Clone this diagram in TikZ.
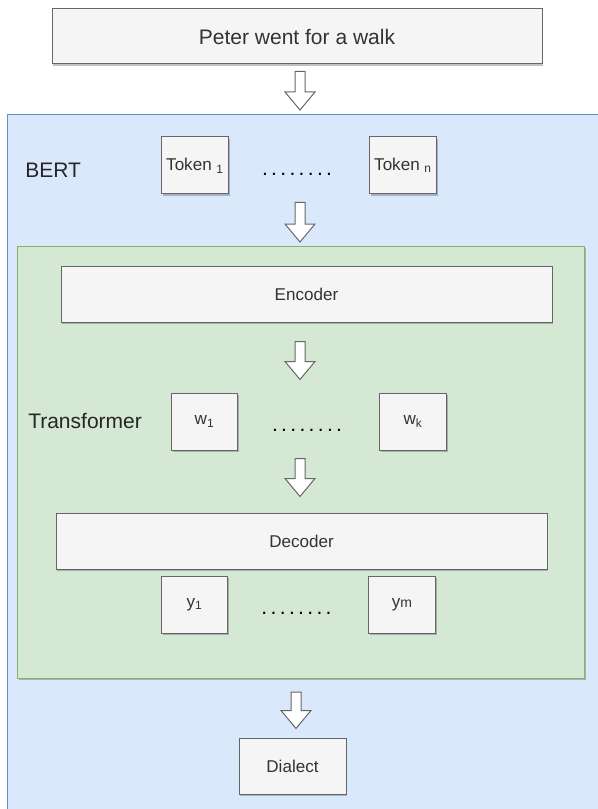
\documentclass[tikz,border=0pt]{standalone}
\usepackage{fontspec}
\setmainfont{Liberation Sans}
\usetikzlibrary{calc,shadows}

\definecolor{boxfill}{HTML}{F5F5F5}
\definecolor{boxline}{HTML}{666666}
\definecolor{boxtext}{HTML}{333333}
\definecolor{bertfill}{HTML}{DAE8FC}
\definecolor{bertline}{HTML}{6C8EBF}
\definecolor{trfill}{HTML}{D5E8D4}
\definecolor{trline}{HTML}{82B366}

\newcommand\dotrow{.\kern2.5pt.\kern2.5pt.\kern2.5pt.\kern2.5pt.\kern2.5pt.\kern2.5pt.\kern2.5pt.}

\tikzset{
  softshadow/.style={drop shadow={shadow xshift=1.1pt, shadow yshift=-1.4pt, opacity=0.35, fill=black!70}},
  greybox/.style={draw=boxline, fill=boxfill, line width=0.75pt, text=boxtext,
    inner sep=0pt, softshadow, font=\fontsize{12.8}{15}\selectfont},
  tokenbox/.style={greybox, minimum width=50pt, minimum height=42.75pt},
  widebox/.style={greybox, minimum width=368.25pt, minimum height=42pt},
  biglabel/.style={font=\fontsize{15.75}{19}\selectfont, text=black!85, inner sep=0pt},
  dots/.style={biglabel, anchor=base, text=black},
  fatarrow/.style 2 args={draw=boxline, fill=white, line width=0.75pt, line join=miter,
    to path={let \p1=(\tikztostart), \p2=(\tikztotarget) in
      (\x1-3.75pt,\y1-#1) -- (\x1+3.75pt,\y1-#1) -- (\x1+3.75pt,\y2+#2+13.5pt)
      -- (\x1+11.25pt,\y2+#2+13.5pt) -- (\x1,\y2+#2) -- (\x1-11.25pt,\y2+#2+13.5pt)
      -- (\x1-3.75pt,\y2+#2+13.5pt) -- cycle}}
}

\begin{document}
\begin{tikzpicture}[x=0.75pt, y=-0.75pt]
  \useasboundingbox (0,0) rectangle (598,809);
  \clip (0,0) rectangle (598,809);

  % input sentence
  \node[greybox, minimum width=367.5pt, minimum height=41.25pt,
    font=\fontsize{15.75}{19}\selectfont] (sentence) at (297,36.5) {Peter went for a walk};

  % BERT container
  \node[draw=bertline, fill=bertfill, line width=0.75pt, anchor=north west,
    minimum width=450pt, minimum height=540pt] (bert) at (7,114) {};
  \node[biglabel, anchor=west] (bertlabel) at (25,170) {BERT};
  \node[tokenbox] (tok1) at (195,165.5) {Token \textsubscript{1}};
  \node[tokenbox] (tokn) at (403,165.5) {Token \textsubscript{n}};
  \node[dots] (tokdots) at (297,176) {\dotrow};

  % transformer block
  \node[draw=trline, fill=trfill, line width=0.75pt, softshadow, anchor=north west,
    minimum width=425.25pt, minimum height=324pt] (transformer) at (17,246) {};
  \node[widebox] (encoder) at (306.5,294) {Encoder};
  \node[biglabel, anchor=west] (translabel) at (28,421) {Transformer};
  \node[tokenbox] (w1) at (204.5,421.5) {w\textsubscript{1}};
  \node[tokenbox] (wk) at (413,421.5) {w\textsubscript{k}};
  \node[dots] (wdots) at (307,431.5) {\dotrow};
  \node[widebox] (decoder) at (301.5,541) {Decoder};
  \node[tokenbox] (y1) at (194.5,604.5) {y\textsubscript{1}};
  \node[tokenbox] (ym) at (402,604.5) {y{\fontsize{10.5}{12}\selectfont m}};
  \node[dots] (ydots) at (296.5,614.5) {\dotrow};

  % output
  \node[greybox, minimum width=80.25pt, minimum height=42pt] (dialect) at (292.5,766) {Dialect};

  % block arrows
  \coordinate (axis) at (300,0);
  \draw[fatarrow={5.25pt}{3pt}] (axis |- sentence.south) to (axis |- bert.north);
  \draw[fatarrow={6pt}{3pt}] (axis |- tok1.south) to (axis |- transformer.north);
  \draw[fatarrow={14.25pt}{9.75pt}] (axis |- encoder.south) to (axis |- w1.north);
  \draw[fatarrow={6pt}{12pt}] (axis |- w1.south) to (axis |- decoder.north);
  \draw[fatarrow={9.75pt}{6.75pt}] ([xshift=-3pt]axis |- transformer.south) to ([xshift=-3pt]axis |- dialect.north);
\end{tikzpicture}
\end{document}
